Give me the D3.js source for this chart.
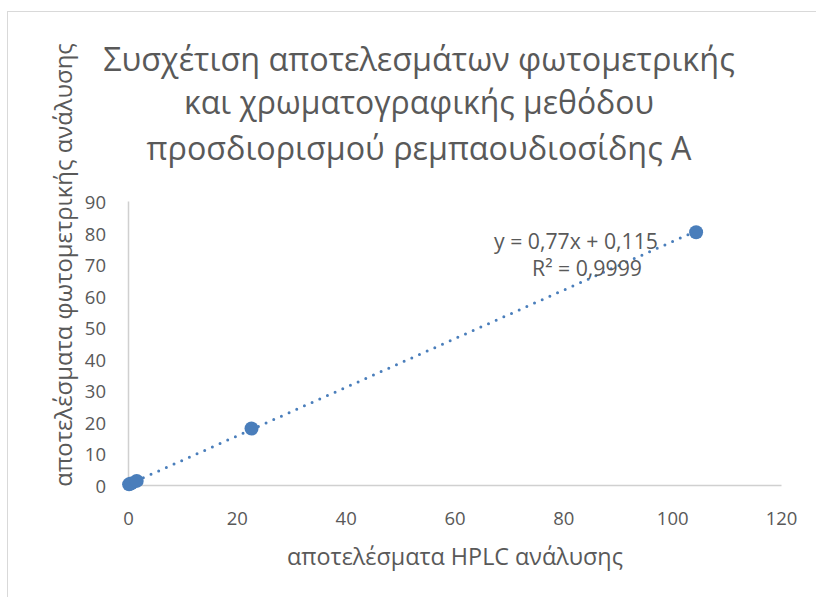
<!DOCTYPE html>
<html><head><meta charset="utf-8">
<script src="https://cdn.jsdelivr.net/npm/d3@7"></script>
<style>body{margin:0;background:#fff}svg{display:block}text{font-family:"Open Sans",sans-serif;fill:#595959}</style>
</head><body><svg id="c" width="816" height="597"></svg>
<script>
const hplc = [0.2, 0.6, 1.6, 22.7, 104.4];
const photo = [0.2, 0.5, 1.3, 17.9, 80.1];
const xTicks = [0, 20, 40, 60, 80, 100, 120];
const yTicks = [0, 10, 20, 30, 40, 50, 60, 70, 80, 90];
const slope = 0.77, intercept = 0.115;
const titleLines = ["Συσχέτιση αποτελεσμάτων φωτομετρικής", "και χρωματογραφικής μεθόδου", "προσδιορισμού ρεμπαουδιοσίδης Α"];
const xTitle = "αποτελέσματα HPLC ανάλυσης";
const yTitle = "αποτελέσματα φωτομετρικής ανάλυσης";
const eqText = "y = 0,77x + 0,115";
const r2Text = "R² = 0,9999";

const svg = d3.select("#c");
const col = "#4A7EBB", grid = "#d0d0d0";
svg.append("rect").attr("x",7.5).attr("y",11.5).attr("width",830).attr("height",600).attr("fill","#fff").attr("stroke","#d9d9d9");

const x = d3.scaleLinear().domain([0,120]).range([128,781]);
const y = d3.scaleLinear().domain([0,90]).range([485,201]);

function fit(t, w){ const n=t.node(); const l=n.getComputedTextLength(); const fs=parseFloat(t.attr("font-size")); t.attr("font-size", fs*w/l); }

const tw = [632, 470, 545];
const ty = [58, 101, 147];
titleLines.forEach((s,i)=>{
  const t = svg.append("text").attr("x",419).attr("y",ty[i]).attr("text-anchor","middle").attr("dominant-baseline","central").attr("font-size",30).text(s);
  fit(t, tw[i]);
});

// axes
const xa = svg.append("g").attr("transform","translate(0,485)").call(d3.axisBottom(x).tickValues(xTicks).tickSize(0).tickPadding(0).tickFormat(d3.format("d")));
const ya = svg.append("g").attr("transform","translate(128,0)").call(d3.axisLeft(y).tickValues(yTicks).tickSize(0).tickPadding(22).tickFormat(d3.format("d")));
[xa,ya].forEach(a=>{a.select(".domain").attr("stroke",grid).attr("stroke-width",1.5);a.selectAll("text").attr("font-size",18.5).attr("fill","#595959").style("font-family","'Open Sans',sans-serif");});
xa.selectAll("text").attr("y",32).attr("dy",null).attr("dominant-baseline","central");
ya.selectAll("text").attr("dy",null).attr("dominant-baseline","central");

const xt = svg.append("text").attr("x",455).attr("y",556).attr("text-anchor","middle").attr("dominant-baseline","central").attr("font-size",20).text(xTitle);
fit(xt, 336);
const yt = svg.append("text").attr("transform","translate(62,265) rotate(-90)").attr("text-anchor","middle").attr("dominant-baseline","central").attr("font-size",20).text(yTitle);
fit(yt, 444);

// trendline
const xmax = d3.max(hplc);
svg.append("line").attr("x1",x(0)).attr("y1",y(intercept)).attr("x2",x(xmax)).attr("y2",y(slope*xmax+intercept))
  .attr("stroke",col).attr("stroke-width",3).attr("stroke-linecap","round").attr("stroke-dasharray","0 8.4");

// points
svg.selectAll("circle.p").data(hplc.map((h,i)=>[h,photo[i]])).join("circle").attr("class","p")
  .attr("cx",d=>x(d[0])).attr("cy",d=>y(d[1])).attr("r",7).attr("fill",col);

// equation
const e1 = svg.append("text").attr("x",576).attr("y",240).attr("text-anchor","middle").attr("dominant-baseline","central").attr("font-size",17).text(eqText);
fit(e1, 164);
const e2 = svg.append("text").attr("x",587).attr("y",267).attr("text-anchor","middle").attr("dominant-baseline","central").attr("font-size",17).text(r2Text);
fit(e2, 110);
</script></body></html>
